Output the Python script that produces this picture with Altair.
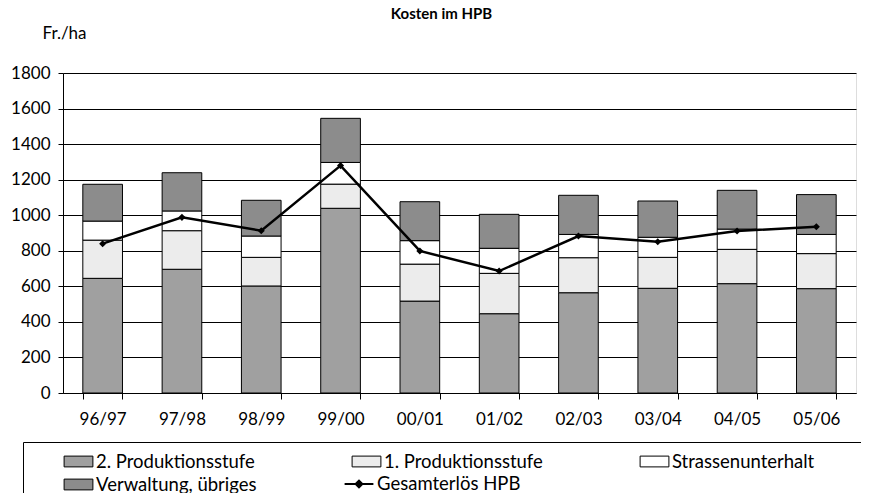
import altair as alt
import pandas as pd

years = ["96/97", "97/98", "98/99", "99/00", "00/01", "01/02", "02/03", "03/04", "04/05", "05/06"]
prod2 = [645, 696, 602, 1039, 517, 446, 564, 589, 615, 587]
prod1 = [215, 217, 161, 136, 208, 227, 197, 174, 193, 197]
strasse = [107, 111, 120, 122, 132, 141, 131, 113, 114, 108]
verw = [207, 215, 201, 248, 219, 191, 220, 204, 218, 224]
erloes = [840, 988, 913, 1279, 799, 686, 883, 851, 911, 935]

bar_series = ["2. Produktionsstufe", "1. Produktionsstufe", "Strassenunterhalt",
              "Verwaltung, übriges"]
bar_colors = ["#a0a0a0", "#ececec", "#ffffff", "#8c8c8c"]
line_series = ["Gesamterlös HPB"]
y_ticks = [0, 200, 400, 600, 800, 1000, 1200, 1400, 1600, 1800]

rows = []
for i, yr in enumerate(years):
    for k, vals in enumerate([prod2, prod1, strasse, verw]):
        rows.append({"Jahr": yr, "Serie": bar_series[k], "Wert": vals[i], "Ordnung": k})
bars_df = pd.DataFrame(rows)
line_df = pd.DataFrame({"Jahr": years, "Wert": erloes, "Serie": line_series * len(years)})

FONT = "Lato"
rect_path = "M-1.2,-0.45H1.2V0.45H-1.2Z"
line_path = "M-1.2,0H1.2M-0.28,0L0,-0.28L0.28,0L0,0.28Z"
pad_expr = "datum.label + '\u2800\u2800\u2800\u2800'"

x_axis = alt.Axis(labelAngle=0, labelFont=FONT, labelFontSize=17, labelColor="black",
                  domainColor="black", tickColor="black", tickSize=6, tickBand="extent",
                  labelPadding=12, grid=False, title=None)
x_scale = alt.Scale(paddingInner=0.5, paddingOuter=0.25)
y_scale = alt.Scale(domain=[0, 1800], nice=False)
y_axis = alt.Axis(values=y_ticks, format="d", labelOverlap=False, grid=True, gridColor="black",
                  gridOpacity=1, gridWidth=1, domainColor="black", tickColor="black", tickSize=5,
                  labelPadding=8, labelFont=FONT, labelFontSize=17, labelColor="black",
                  title="Fr./ha", titleAngle=0, titleX=-21, titleY=-40, titleAlign="left",
                  titleBaseline="middle", titleFont=FONT, titleFontSize=17,
                  titleFontWeight="normal", titleColor="black")

common_legend = dict(title=None, symbolType=rect_path, symbolSize=576,
                     labelFont=FONT, labelFontSize=18.5, labelColor="black", labelLimit=400,
                     labelOffset=5, symbolOffset=36)

fill_legend = alt.Legend(
    orient="none", legendX=-40, legendY=369, direction="horizontal", columns=3,
    symbolStrokeColor="black", symbolStrokeWidth=1, strokeColor="black",
    padding=7, columnPadding=5, rowPadding=1, gridAlign="all", labelExpr=pad_expr,
    **common_legend)

line_legend = alt.Legend(
    orient="none", legendX=247, legendY=398, padding=0,
    symbolStrokeWidth=2, symbolFillColor="black", **{**common_legend, "symbolType": line_path})

bars = alt.Chart(bars_df).mark_bar(stroke="black", strokeWidth=1).encode(
    x=alt.X("Jahr:N", sort=years, scale=x_scale, axis=x_axis),
    y=alt.Y("Wert:Q", stack="zero", scale=y_scale, axis=y_axis),
    fill=alt.Fill("Serie:N", scale=alt.Scale(domain=bar_series, range=bar_colors),
                  legend=fill_legend),
    order=alt.Order("Ordnung:Q"),
)
line = alt.Chart(line_df).mark_line(strokeWidth=2.5).encode(
    x=alt.X("Jahr:N", sort=years, scale=x_scale, axis=x_axis),
    y=alt.Y("Wert:Q", scale=y_scale, axis=y_axis),
    stroke=alt.Stroke("Serie:N", scale=alt.Scale(domain=line_series, range=["#000000"]),
                      legend=line_legend),
)
pts = alt.Chart(line_df).mark_point(shape="diamond", filled=True, size=50, opacity=1).encode(
    x=alt.X("Jahr:N", sort=years, scale=x_scale, axis=x_axis),
    y=alt.Y("Wert:Q", scale=y_scale, axis=y_axis),
    color=alt.value("black"),
)

chart = alt.layer(bars, line, pts).properties(
    width=793, height=320,
    padding={"left": 55, "top": 65, "right": 5, "bottom": 100},
    autosize=alt.AutoSizeParams(type="none"),
    title=alt.TitleParams("Kosten im HPB", font=FONT, fontSize=15, fontWeight="bold",
                          color="black", offset=5, dx=-18, dy=3),
).configure_view(stroke=None).configure(background="white")

chart.save("out.html", embed_options={"renderer": "svg", "actions": False})
